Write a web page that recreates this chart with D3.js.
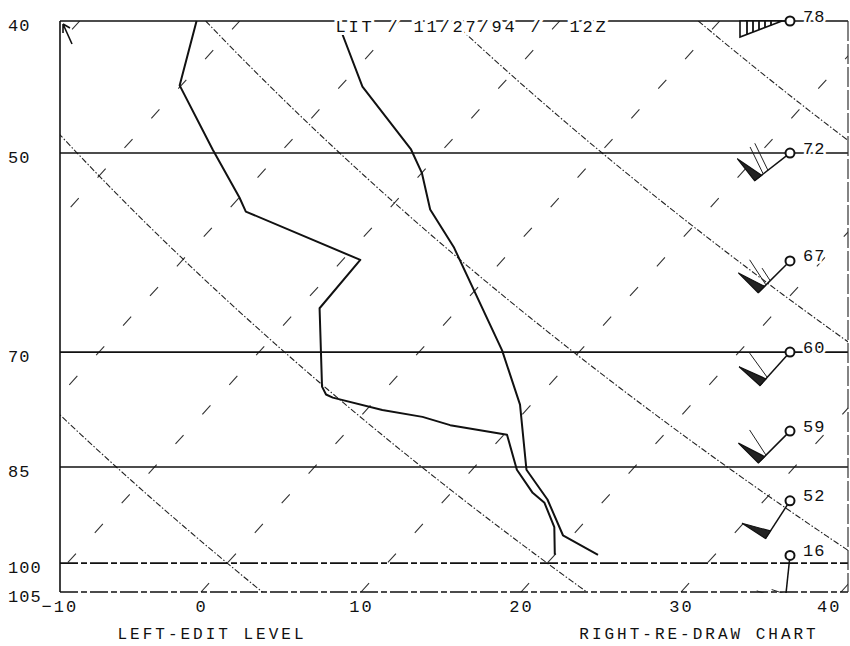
<!DOCTYPE html>
<html>
<head>
<meta charset="utf-8">
<script src="https://cdn.jsdelivr.net/npm/d3@7"></script>
<style>
  body { margin: 0; background: #fff; }
  text { font-family: "Liberation Mono", "DejaVu Sans Mono", monospace; fill: #111; }
</style>
</head>
<body>
<div id="chart"></div>
<script>
// LIT / 11/27/94 / 12Z sounding (pressure in kPa, temperature in deg C)
var pressureLevels = [40, 50, 70, 85, 100, 105];
var tempTicks = [-10, 0, 10, 20, 30, 40];
var isotherms = [-60, -50, -40, -30, -20, -10, 0, 10, 20, 30, 40];
var adiabats = [0, 20, 40, 60, 80]; // potential temperature, deg C

var tempP = [40, 44.7, 49.7, 51.7, 55.0, 58.6, 69.8, 76.5, 85.4, 89.8, 95.4, 98.6];
var tempT = [-23.9, -18.6, -12.0, -10.0, -7.4, -3.8, 5.1, 9.3, 13.4, 16.4, 19.4, 22.7];

var dewP = [40, 44.6, 49.7, 53.9, 55.2, 59.9, 65.0, 74.2, 75.2, 75.6, 77.2, 78.1, 79.2, 80.5, 85.4, 88.8, 90.3, 94.1, 98.6];
var dewT = [-32.7, -30.1, -24.4, -20.0, -18.8, -8.9, -8.7, -4.1, -3.4, -2.8, 1.0, 3.9, 6.1, 10.2, 12.8, 15.1, 16.4, 18.4, 20.0];

var windP = [40, 50, 60, 70, 80, 90, 98.7];
var windDir = [270, 232, 225, 222, 225, 213, 186];
var windSpd = [78, 72, 67, 60, 59, 52, 16];

var title = 'LIT / 11/27/94 /  12Z';

(function() {

  init();

  function init() {
    var width = 850;
    var height = 646;
    var plotLeft = 60, plotRight = 848;

    var svg = d3.select('#chart')
      .append('svg')
      .attr('width', width)
      .attr('height', height)
      .style('background', '#fff');

    var x = d3.scaleLinear().domain([-10, 40]).range([41, 841]);
    var y = d3.scaleLog().domain([40, 105]).range([21, 592]);
    var top = y(40), bottom = y(105);
    var skew = 0.9085; // isotherm lean, px right per px up

    // skewed position of temperature t at pressure p
    function px(t, p) { return x(t) + skew * (bottom - y(p)); }

    svg.append('clipPath').attr('id', 'plot')
      .append('rect')
      .attr('x', plotLeft).attr('y', top)
      .attr('width', plotRight - plotLeft).attr('height', bottom - top);

    svg.append('clipPath').attr('id', 'barbs')
      .append('rect')
      .attr('x', plotLeft).attr('y', top - 8)
      .attr('width', plotRight - plotLeft).attr('height', bottom - top + 9);

    var grid = svg.append('g').attr('clip-path', 'url(#plot)');

    // isotherms
    grid.selectAll('line.iso')
      .data(isotherms)
      .enter()
      .append('line')
      .attr('class', 'iso')
      .attr('x1', function(d) { return px(d, 105); })
      .attr('y1', bottom)
      .attr('x2', function(d) { return px(d, 40); })
      .attr('y2', top)
      .attr('stroke', '#333')
      .attr('stroke-width', 1.1)
      .attr('stroke-dasharray', '12,28');

    // dry adiabats
    var pSteps = d3.range(40, 105.01, 0.5);
    var adiabatLine = d3.line()
      .x(function(d) { return d[0]; })
      .y(function(d) { return d[1]; });

    grid.selectAll('path.dry')
      .data(adiabats)
      .enter()
      .append('path')
      .attr('class', 'dry')
      .attr('fill', 'none')
      .attr('stroke', '#222')
      .attr('stroke-width', 1.1)
      .attr('stroke-dasharray', '6,2,1.5,2')
      .attr('d', function(theta) {
        return adiabatLine(pSteps.map(function(p) {
          var t = (theta + 273.15) * Math.pow(p / 100, 0.2857) - 273.15;
          return [px(t, p), y(p)];
        }));
      });

    // pressure lines
    svg.append('g').selectAll('line')
      .data(pressureLevels)
      .enter()
      .append('line')
      .attr('x1', plotLeft)
      .attr('x2', plotRight)
      .attr('y1', function(d) { return y(d); })
      .attr('y2', function(d) { return y(d); })
      .attr('stroke', '#111')
      .attr('stroke-width', 1.6)
      .attr('stroke-dasharray', function(d) { return d >= 100 ? '18,3,6,3' : null; });

    // frame sides
    svg.append('line')
      .attr('x1', plotLeft).attr('x2', plotLeft)
      .attr('y1', top).attr('y2', bottom)
      .attr('stroke', '#111').attr('stroke-width', 1.6);
    svg.append('line')
      .attr('x1', plotRight).attr('x2', plotRight)
      .attr('y1', top).attr('y2', bottom)
      .attr('stroke', '#333').attr('stroke-width', 1.2)
      .attr('stroke-dasharray', '20,3');

    // cursor arrow in the corner
    svg.append('path')
      .attr('d', 'M' + (plotLeft + 3) + ',' + (top + 3) + 'l9,20' +
        'M' + (plotLeft + 3) + ',' + (top + 3) + 'l0,9' +
        'M' + (plotLeft + 3) + ',' + (top + 3) + 'l7,4')
      .attr('fill', 'none').attr('stroke', '#111').attr('stroke-width', 1.6);

    // profiles
    var profile = d3.line()
      .x(function(d) { return px(d.t, d.p); })
      .y(function(d) { return y(d.p); });

    var temps = tempP.map(function(p, i) { return {p: p, t: tempT[i]}; });
    var dews = dewP.map(function(p, i) { return {p: p, t: dewT[i]}; });

    svg.append('g').selectAll('path')
      .data([temps, dews])
      .enter()
      .append('path')
      .attr('fill', 'none')
      .attr('stroke', '#111')
      .attr('stroke-width', 2)
      .attr('stroke-linejoin', 'round')
      .attr('d', profile);

    // wind barbs
    var barbX = 790;
    var shaft = 45;
    var barbs = svg.append('g').attr('clip-path', 'url(#barbs)');
    var labels = svg.append('g');

    windP.forEach(function(p, i) {
      var sx = barbX, sy = y(p);
      var a = windDir[i] * Math.PI / 180;
      var ux = Math.sin(a), uy = -Math.cos(a);
      var nx = -uy, ny = ux;
      // no room above the chart: fold the pennant flat along the shaft
      var folded = sy + shaft * uy + 28 * ny < top;
      if (folded) { nx = -nx; ny = -ny; }
      // barb direction leans a little back toward the station
      var c = Math.cos(0.21), s = Math.sin(0.21);
      var bx = nx * c - ux * s, by = ny * c - uy * s;

      function pt(d) { return [sx + d * ux, sy + d * uy]; }

      var g = barbs.append('g');
      var e = pt(shaft);
      g.append('line')
        .attr('x1', pt(5)[0]).attr('y1', pt(5)[1])
        .attr('x2', e[0]).attr('y2', e[1])
        .attr('stroke', '#111').attr('stroke-width', 1.5);

      var spd = Math.round(windSpd[i] / 5) * 5;
      var pennants = Math.floor(spd / 50);
      var full = Math.floor((spd % 50) / 10);
      var half = (spd % 10) >= 5;
      var pos = shaft;

      if (folded) {
        var f0 = pt(shaft + 5), f1 = pt(8);
        g.append('path')
          .attr('d', 'M' + f0[0] + ',' + f0[1] +
            'L' + (f0[0] + 16 * nx) + ',' + (f0[1] + 16 * ny) +
            'L' + f1[0] + ',' + f1[1] + 'Z')
          .attr('fill', '#fff').attr('stroke', '#111').attr('stroke-width', 1.6);
        for (var m = 0; m < full + pennants * 2; m++) {
          var fq = pt(shaft - 2 - m * 6);
          var fl = 16 * (shaft - 2 - m * 6 - 8) / (shaft - 3);
          g.append('line')
            .attr('x1', fq[0]).attr('y1', fq[1])
            .attr('x2', fq[0] + fl * nx).attr('y2', fq[1] + fl * ny)
            .attr('stroke', '#111').attr('stroke-width', 1.8);
        }
      } else {
        for (var k = 0; k < pennants; k++) {
          var b0 = pt(pos), b1 = pt(pos - 9);
          g.append('path')
            .attr('d', 'M' + b0[0] + ',' + b0[1] +
              'L' + (b0[0] + 28 * nx) + ',' + (b0[1] + 28 * ny) +
              'L' + b1[0] + ',' + b1[1] + 'Z')
            .attr('fill', '#222').attr('stroke', '#111').attr('stroke-width', 1.2);
          pos -= 11;
        }
        for (var j = 0; j < full; j++) {
          var q = pt(pos);
          g.append('line')
            .attr('x1', q[0]).attr('y1', q[1])
            .attr('x2', q[0] + 30 * bx).attr('y2', q[1] + 30 * by)
            .attr('stroke', '#222').attr('stroke-width', 1);
          pos -= 6;
        }
        if (half) {
          var h = pt(pos);
          g.append('line')
            .attr('x1', h[0]).attr('y1', h[1])
            .attr('x2', h[0] + 15 * bx).attr('y2', h[1] + 15 * by)
            .attr('stroke', '#222').attr('stroke-width', 1);
        }
      }

      labels.append('circle')
        .attr('cx', sx).attr('cy', sy).attr('r', 4.5)
        .attr('fill', '#fff').attr('stroke', '#111').attr('stroke-width', 2);

      labels.append('text')
        .attr('x', sx + 13)
        .attr('y', sy - 4)
        .attr('dominant-baseline', 'central')
        .attr('font-size', 17)
        .attr('letter-spacing', 1)
        .attr('stroke', '#fff').attr('stroke-width', 5)
        .style('paint-order', 'stroke')
        .text(windSpd[i]);
    });

    // title on the top line
    svg.append('text')
      .attr('x', 472)
      .attr('y', 32)
      .attr('text-anchor', 'middle')
      .attr('font-size', 17)
      .attr('letter-spacing', 2.8)
      .attr('stroke', '#fff').attr('stroke-width', 6)
      .style('paint-order', 'stroke')
      .style('white-space', 'pre')
      .text(title);

    // temperature axis
    var xAxis = svg.append('g')
      .attr('transform', 'translate(0,' + (bottom + 8) + ')')
      .call(d3.axisBottom(x).tickValues(tempTicks).tickSize(0).tickPadding(0).tickFormat(d3.format('d')));
    xAxis.select('.domain').remove();
    xAxis.selectAll('text')
      .attr('font-family', '"Liberation Mono", "DejaVu Sans Mono", monospace')
      .attr('font-size', 17)
      .attr('letter-spacing', 2)
      .attr('fill', '#111')
      .attr('text-anchor', function(d) {
        return d === tempTicks[0] ? 'start' : d === tempTicks[tempTicks.length - 1] ? 'end' : 'middle';
      });

    // pressure axis
    var yAxis = svg.append('g')
      .attr('transform', 'translate(8,0)')
      .call(d3.axisLeft(y).tickValues(pressureLevels).tickSize(0).tickPadding(0).tickFormat(d3.format('d')));
    yAxis.select('.domain').remove();
    yAxis.selectAll('text')
      .attr('font-family', '"Liberation Mono", "DejaVu Sans Mono", monospace')
      .attr('font-size', 17)
      .attr('letter-spacing', 1)
      .attr('fill', '#111')
      .attr('text-anchor', 'start')
      .attr('x', 0)
      .attr('dy', '0.55em');

    // footer prompts
    svg.append('text')
      .attr('x', 212).attr('y', 639)
      .attr('text-anchor', 'middle')
      .attr('font-size', 16)
      .attr('letter-spacing', 3)
      .text('LEFT-EDIT LEVEL');
    svg.append('text')
      .attr('x', 699).attr('y', 639)
      .attr('text-anchor', 'middle')
      .attr('font-size', 16)
      .attr('letter-spacing', 3)
      .text('RIGHT-RE-DRAW CHART');
  }

})();
</script>
</body>
</html>
